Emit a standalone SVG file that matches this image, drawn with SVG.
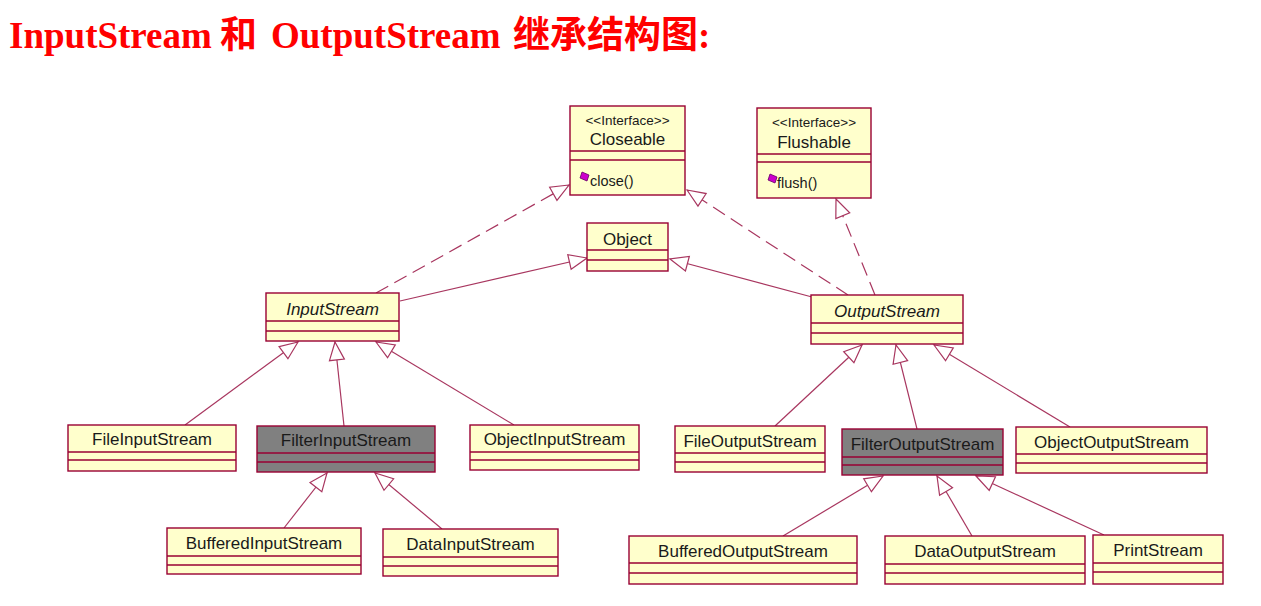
<svg xmlns="http://www.w3.org/2000/svg" width="1261" height="606" viewBox="0 0 1261 606">
<style>
.box{fill:#FFFFCC;stroke:#990033;stroke-width:1.4}
.gray{fill:#808080;stroke:#990033;stroke-width:1.4}
.sep{stroke:#990033;stroke-width:1.4}
.nm{font-family:"Liberation Sans",Arial,sans-serif;font-size:17px;fill:#1a1a1a;text-anchor:middle}
.it{font-style:italic}
.st{font-family:"Liberation Sans",Arial,sans-serif;font-size:13.5px;fill:#1a1a1a;text-anchor:middle}
.op{font-family:"Liberation Sans",Arial,sans-serif;font-size:14.5px;fill:#1a1a1a}
.dm{fill:#CC00CC;stroke:#660066;stroke-width:0.8}
.gen{fill:none;stroke:#A8365F;stroke-width:1.2}
.real{fill:none;stroke:#A8365F;stroke-width:1.2;stroke-dasharray:14 7}
.title{font-family:"Liberation Serif","Times New Roman","Noto Sans CJK SC",serif;font-size:37px;font-weight:bold;fill:#FF0000}
</style>
<defs>
<marker id="tri" viewBox="-20 -9 22 18" refX="0" refY="0" markerWidth="22" markerHeight="18" markerUnits="userSpaceOnUse" orient="auto">
<path d="M0,0 L-18,-7.5 L-18,7.5 Z" fill="#FFFFFF" stroke="#A8365F" stroke-width="1.2"/>
</marker>
</defs>
<rect width="1261" height="606" fill="#FFFFFF"/>
<text class="title" y="48"><tspan x="9">InputStream</tspan><tspan x="220">和</tspan><tspan x="271">OutputStream</tspan><tspan x="513">继承结构图:</tspan></text>

<g id="connectors">
<line class="real" x1="376" y1="293" x2="569" y2="185" marker-end="url(#tri)"/>
<line class="gen" x1="400" y1="301" x2="587" y2="258" marker-end="url(#tri)"/>
<line class="real" x1="848" y1="295" x2="687" y2="190" marker-end="url(#tri)"/>
<line class="real" x1="875" y1="295" x2="836" y2="199" marker-end="url(#tri)"/>
<line class="gen" x1="812" y1="297" x2="670" y2="259" marker-end="url(#tri)"/>
<line class="gen" x1="185" y1="425" x2="298" y2="342" marker-end="url(#tri)"/>
<line class="gen" x1="344" y1="426" x2="335" y2="342" marker-end="url(#tri)"/>
<line class="gen" x1="514" y1="425" x2="376" y2="342" marker-end="url(#tri)"/>
<line class="gen" x1="284" y1="528" x2="327" y2="473" marker-end="url(#tri)"/>
<line class="gen" x1="442" y1="529" x2="375" y2="473" marker-end="url(#tri)"/>
<line class="gen" x1="775" y1="426" x2="862" y2="345" marker-end="url(#tri)"/>
<line class="gen" x1="917" y1="429" x2="896" y2="345" marker-end="url(#tri)"/>
<line class="gen" x1="1070" y1="427" x2="934" y2="345" marker-end="url(#tri)"/>
<line class="gen" x1="783" y1="536" x2="883" y2="476" marker-end="url(#tri)"/>
<line class="gen" x1="972" y1="536" x2="937" y2="476" marker-end="url(#tri)"/>
<line class="gen" x1="1104" y1="535" x2="976" y2="476" marker-end="url(#tri)"/>
</g>

<g id="Closeable">
<rect class="box" x="570" y="106" width="115" height="89"/>
<line class="sep" x1="570" y1="151" x2="685" y2="151"/>
<line class="sep" x1="570" y1="160" x2="685" y2="160"/>
<text class="st" x="627.5" y="125">&lt;&lt;Interface&gt;&gt;</text>
<text class="nm" x="627.5" y="145">Closeable</text>
<polygon class="dm" points="582,172 589,175 587,181 580,178"/>
<text class="op" x="590" y="186">close()</text>
</g>

<g id="Flushable">
<rect class="box" x="757" y="108" width="114" height="90"/>
<line class="sep" x1="757" y1="154" x2="871" y2="154"/>
<line class="sep" x1="757" y1="162" x2="871" y2="162"/>
<text class="st" x="814" y="127">&lt;&lt;Interface&gt;&gt;</text>
<text class="nm" x="814" y="148">Flushable</text>
<polygon class="dm" points="770,174 777,177 775,183 768,180"/>
<text class="op" x="777" y="188">flush()</text>
</g>

<g id="Object">
<rect class="box" x="587" y="223" width="81" height="48"/>
<line class="sep" x1="587" y1="250" x2="668" y2="250"/>
<line class="sep" x1="587" y1="260" x2="668" y2="260"/>
<text class="nm" x="627.5" y="245">Object</text>
</g>

<g id="InputStream">
<rect class="box" x="266" y="293" width="133" height="48"/>
<line class="sep" x1="266" y1="321" x2="399" y2="321"/>
<line class="sep" x1="266" y1="331" x2="399" y2="331"/>
<text class="nm it" x="332.5" y="315">InputStream</text>
</g>

<g id="OutputStream">
<rect class="box" x="811" y="295" width="152" height="49"/>
<line class="sep" x1="811" y1="323" x2="963" y2="323"/>
<line class="sep" x1="811" y1="333" x2="963" y2="333"/>
<text class="nm it" x="887" y="317">OutputStream</text>
</g>

<g id="FileInputStream">
<rect class="box" x="68" y="425" width="168" height="46"/>
<line class="sep" x1="68" y1="452" x2="236" y2="452"/>
<line class="sep" x1="68" y1="460" x2="236" y2="460"/>
<text class="nm" x="152" y="445">FileInputStream</text>
</g>

<g id="FilterInputStream">
<rect class="gray" x="257" y="426" width="178" height="46"/>
<line class="sep" x1="257" y1="453" x2="435" y2="453"/>
<line class="sep" x1="257" y1="462" x2="435" y2="462"/>
<text class="nm" x="346" y="446">FilterInputStream</text>
</g>

<g id="ObjectInputStream">
<rect class="box" x="470" y="425" width="169" height="45"/>
<line class="sep" x1="470" y1="452" x2="639" y2="452"/>
<line class="sep" x1="470" y1="460" x2="639" y2="460"/>
<text class="nm" x="554.5" y="445">ObjectInputStream</text>
</g>

<g id="BufferedInputStream">
<rect class="box" x="167" y="528" width="194" height="46"/>
<line class="sep" x1="167" y1="556" x2="361" y2="556"/>
<line class="sep" x1="167" y1="565" x2="361" y2="565"/>
<text class="nm" x="264" y="549">BufferedInputStream</text>
</g>

<g id="DataInputStream">
<rect class="box" x="383" y="529" width="175" height="47"/>
<line class="sep" x1="383" y1="557" x2="558" y2="557"/>
<line class="sep" x1="383" y1="566" x2="558" y2="566"/>
<text class="nm" x="470.5" y="550">DataInputStream</text>
</g>

<g id="FileOutputStream">
<rect class="box" x="675" y="426" width="150" height="46"/>
<line class="sep" x1="675" y1="453" x2="825" y2="453"/>
<line class="sep" x1="675" y1="462" x2="825" y2="462"/>
<text class="nm" x="750" y="447">FileOutputStream</text>
</g>

<g id="FilterOutputStream">
<rect class="gray" x="842" y="429" width="161" height="46"/>
<line class="sep" x1="842" y1="457" x2="1003" y2="457"/>
<line class="sep" x1="842" y1="465" x2="1003" y2="465"/>
<text class="nm" x="922.5" y="450">FilterOutputStream</text>
</g>

<g id="ObjectOutputStream">
<rect class="box" x="1016" y="427" width="191" height="46"/>
<line class="sep" x1="1016" y1="454" x2="1207" y2="454"/>
<line class="sep" x1="1016" y1="463" x2="1207" y2="463"/>
<text class="nm" x="1111.5" y="448">ObjectOutputStream</text>
</g>

<g id="BufferedOutputStream">
<rect class="box" x="629" y="536" width="228" height="48"/>
<line class="sep" x1="629" y1="563" x2="857" y2="563"/>
<line class="sep" x1="629" y1="573" x2="857" y2="573"/>
<text class="nm" x="743" y="557">BufferedOutputStream</text>
</g>

<g id="DataOutputStream">
<rect class="box" x="885" y="536" width="200" height="48"/>
<line class="sep" x1="885" y1="564" x2="1085" y2="564"/>
<line class="sep" x1="885" y1="573" x2="1085" y2="573"/>
<text class="nm" x="985" y="557">DataOutputStream</text>
</g>

<g id="PrintStream">
<rect class="box" x="1093" y="535" width="130" height="49"/>
<line class="sep" x1="1093" y1="563" x2="1223" y2="563"/>
<line class="sep" x1="1093" y1="572" x2="1223" y2="572"/>
<text class="nm" x="1158" y="556">PrintStream</text>
</g>
</svg>
